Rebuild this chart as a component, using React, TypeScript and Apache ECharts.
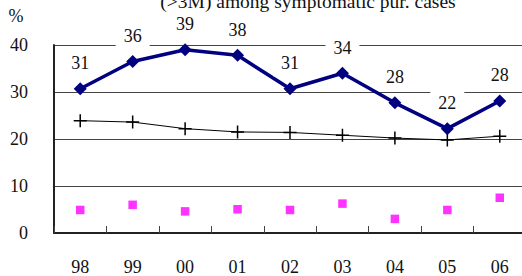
import React, { useEffect, useRef } from "react";
import * as echarts from "echarts";

const years = ["98", "99", "00", "01", "02", "03", "04", "05", "06"];
const mainSeries = [30.7, 36.5, 39.0, 37.8, 30.7, 34.0, 27.7, 22.2, 28.1];
const mainLabels = ["31", "36", "39", "38", "31", "34", "28", "22", "28"];
const plusSeries = [23.9, 23.6, 22.2, 21.5, 21.4, 20.8, 20.2, 19.8, 20.6];
const pinkSeries = [4.9, 6.0, 4.6, 5.05, 4.9, 6.25, 3.0, 4.9, 7.5];
const yTicks = [0, 10, 20, 30, 40];

const FONT = "'Times New Roman', 'Liberation Serif', serif";
const FS = 18;

export default function App() {
  const ref = useRef<HTMLDivElement>(null);
  useEffect(() => {
    if (!ref.current) return;
    const chart = echarts.init(ref.current, undefined, { renderer: "svg" });
    chart.setOption({
      animation: false,
      backgroundColor: "#fff",
      textStyle: { fontFamily: FONT },
      grid: { left: 54, right: 4, top: 45, bottom: 41 },
      graphic: [
        {
          type: "text",
          x: 308,
          y: 1,
          style: {
            text: "(>3M) among symptomatic pur. cases",
            fontSize: 19.5,
            fontFamily: FONT,
            fill: "#111",
            align: "center",
            verticalAlign: "middle",
          },
        },
        {
          type: "text",
          x: 16,
          y: 16,
          style: {
            text: "%",
            fontSize: FS,
            fontFamily: FONT,
            fill: "#111",
            align: "center",
            verticalAlign: "middle",
          },
        },
      ],
      xAxis: {
        type: "category",
        data: years,
        boundaryGap: true,
        axisLine: { show: true, lineStyle: { color: "#222", width: 2 } },
        axisTick: { show: true, inside: true, length: 7, interval: 0, lineStyle: { color: "#444", width: 1 } },
        axisLabel: { margin: 25, fontSize: FS, color: "#111", fontFamily: FONT, interval: 0 },
        splitLine: { show: false },
      },
      yAxis: {
        type: "value",
        min: yTicks[0],
        max: yTicks[yTicks.length - 1],
        interval: 10,
        axisLine: { show: true, lineStyle: { color: "#222", width: 2 } },
        axisTick: { show: false },
        axisLabel: { margin: 26, fontSize: FS, color: "#111", fontFamily: FONT },
        splitLine: { show: true, lineStyle: { color: "#444", width: 1 } },
      },
      series: [
        {
          type: "scatter",
          data: pinkSeries,
          symbol: "rect",
          symbolSize: 8.5,
          itemStyle: { color: "#ff00ff" },
          z: 2,
        },
        {
          type: "line",
          data: plusSeries,
          symbol: "path://M0,5L10,5M5,0L5,10",
          symbolSize: 13,
          showAllSymbol: true,
          lineStyle: { color: "#000", width: 1 },
          itemStyle: { color: "transparent", borderColor: "#000", borderWidth: 1.5 },
          z: 3,
        },
        {
          type: "line",
          data: mainSeries.map((v, i) => ({ value: v, label: { formatter: mainLabels[i] } })),
          symbol: "diamond",
          symbolSize: 13,
          showAllSymbol: true,
          lineStyle: { color: "#000080", width: 3.5 },
          itemStyle: { color: "#000080" },
          label: {
            show: true,
            position: "top",
            distance: 6,
            fontSize: FS,
            lineHeight: 16,
            color: "#111",
            fontFamily: FONT,
            backgroundColor: "#fff",
            padding: [5, 8],
          },
          z: 4,
        },
      ],
    });
    return () => chart.dispose();
  }, []);
  return (
    <div
      ref={ref}
      style={{ position: "fixed", left: 0, top: 0, width: 530, height: 276, background: "#fff" }}
    />
  );
}
